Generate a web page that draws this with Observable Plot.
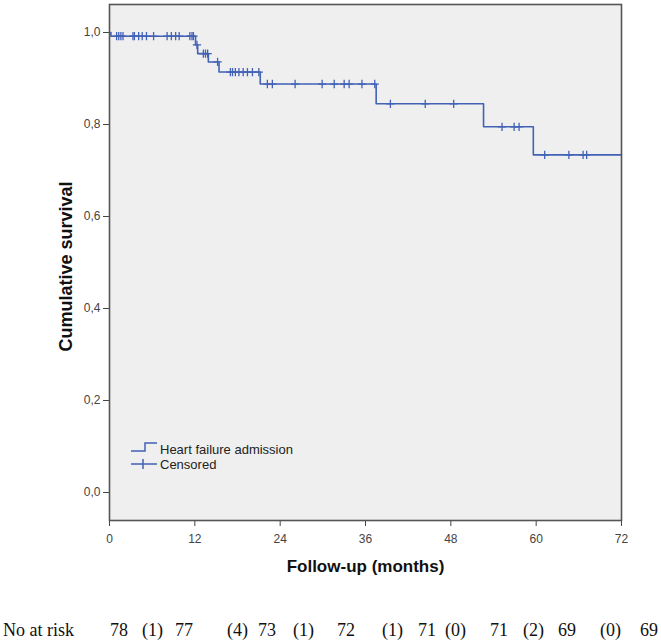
<!DOCTYPE html>
<html><head><meta charset="utf-8">
<script src="https://cdn.jsdelivr.net/npm/d3@7"></script>
<script src="https://cdn.jsdelivr.net/npm/@observablehq/plot@0.6"></script>
<style>
body{margin:0;background:#fff;}
#wrap{position:relative;width:661px;height:643px;overflow:hidden;background:#fff;}
#legend{position:absolute;left:128px;top:438px;}
#risk{position:absolute;left:0;top:621px;width:661px;height:22px;font:18px "Liberation Serif","Times New Roman",serif;color:#111;}
#risk span{position:absolute;top:0;white-space:nowrap;line-height:18px;}
</style></head><body>
<div id="wrap"><div id="chart"></div><div id="legend"></div><div id="risk"></div></div>
<script>
// Kaplan-Meier step curve (event times in months, survival after each step)
const eventTimes = [0, 0.2, 12.1, 12.4, 13.9, 15.4, 21.2, 37.5, 52.6, 59.6, 72];
const survival   = [1.0, 0.992, 0.973, 0.954, 0.936, 0.914, 0.888, 0.845, 0.795, 0.734, 0.734];
// Censored observations (months)
const censorTimes = [1.0, 1.3, 1.6, 1.9, 3.3, 3.5, 4.1, 4.6, 5.2, 6.2, 8.1, 8.7, 9.3, 9.8, 11.3, 11.6, 11.8,
  12.3, 13.2, 13.5, 13.8, 15.2, 17.0, 17.3, 17.7, 18.2, 18.8, 19.4, 20.1, 21.0,
  22.2, 22.9, 26.1, 29.9, 31.6, 33.0, 33.7, 35.5, 37.3, 39.5, 44.4, 48.4,
  55.2, 56.9, 57.6, 61.2, 64.6, 66.6, 67.1];
const xTicks = [0, 12, 24, 36, 48, 60, 72];
const yTicks = [0, 0.2, 0.4, 0.6, 0.8, 1.0];
const xTitle = "Follow-up (months)";
const yTitle = "Cumulative survival";
const legendLabels = ["Heart failure admission", "Censored"];
const riskLabels = ["No at risk", "78", "(1)", "77", "(4)", "73", "(1)", "72", "(1)", "71", "(0)", "71", "(2)", "69", "(0)", "69"];

// layout
const riskLeft = [3, 110, 142, 175, 227, 258, 293, 337, 382, 418, 445, 490, 523, 558, 600, 640];
const blue = "#4262b6";

const curve = eventTimes.map((t, i) => ({t, s: survival[i]}));
const censored = censorTimes.map(t => ({t, s: survival[d3.bisectRight(eventTimes, t) - 1]}));
const fmt = d => d3.format(".1f")(d).replace(".", ",");

const chart = Plot.plot({
  width: 661, height: 600,
  marginLeft: 109, marginRight: 40, marginTop: 4, marginBottom: 80,
  style: {fontFamily: "'Liberation Sans', Arial, sans-serif", fontSize: "12px", color: "#444", background: "transparent"},
  x: {domain: [0, 72], ticks: xTicks, tickSize: 6, tickPadding: 8, label: null},
  y: {domain: [-0.0609, 1.0609], ticks: yTicks, tickFormat: fmt, tickSize: 6, tickPadding: 3, label: null},
  marks: [
    Plot.frame({fill: "#efefef", stroke: "none"}),
    Plot.dot(censored, {x: "t", y: "s", symbol: "plus", r: 2.8, stroke: blue, strokeWidth: 1.3}),
    Plot.line(curve, {x: "t", y: "s", curve: "step-after", stroke: blue, strokeWidth: 1.6}),
    Plot.frame({stroke: "#555", strokeWidth: 1.6}),
    Plot.text([xTitle], {text: d => d, frameAnchor: "bottom", dy: 51, fontWeight: "bold", fontSize: 17, fill: "#111"}),
    Plot.text([yTitle], {text: d => d, frameAnchor: "left", textAnchor: "middle", dx: -43, dy: 4, rotate: -90, fontWeight: "bold", fontSize: 18, fill: "#111"})
  ]
});
document.getElementById("chart").appendChild(chart);

// legend inside plot area
const lg = d3.select("#legend").append("svg").attr("width", 220).attr("height", 36);
lg.append("path").attr("d", "M3,13H17V5H29").attr("fill", "none").attr("stroke", blue).attr("stroke-width", 1.5);
lg.append("path").attr("d", "M3,26H29M15,21V31").attr("fill", "none").attr("stroke", blue).attr("stroke-width", 1.5);
lg.selectAll("text").data(legendLabels).join("text")
  .attr("x", 32).attr("y", (d, i) => 11 + i * 15).attr("dy", "0.35em")
  .attr("font-family", "'Liberation Sans', Arial, sans-serif").attr("font-size", 13).attr("fill", "#222")
  .text(d => d);

// number at risk row
d3.select("#risk").selectAll("span").data(riskLabels).join("span")
  .style("left", (d, i) => riskLeft[i] + "px").text(d => d);
</script>
</body></html>
